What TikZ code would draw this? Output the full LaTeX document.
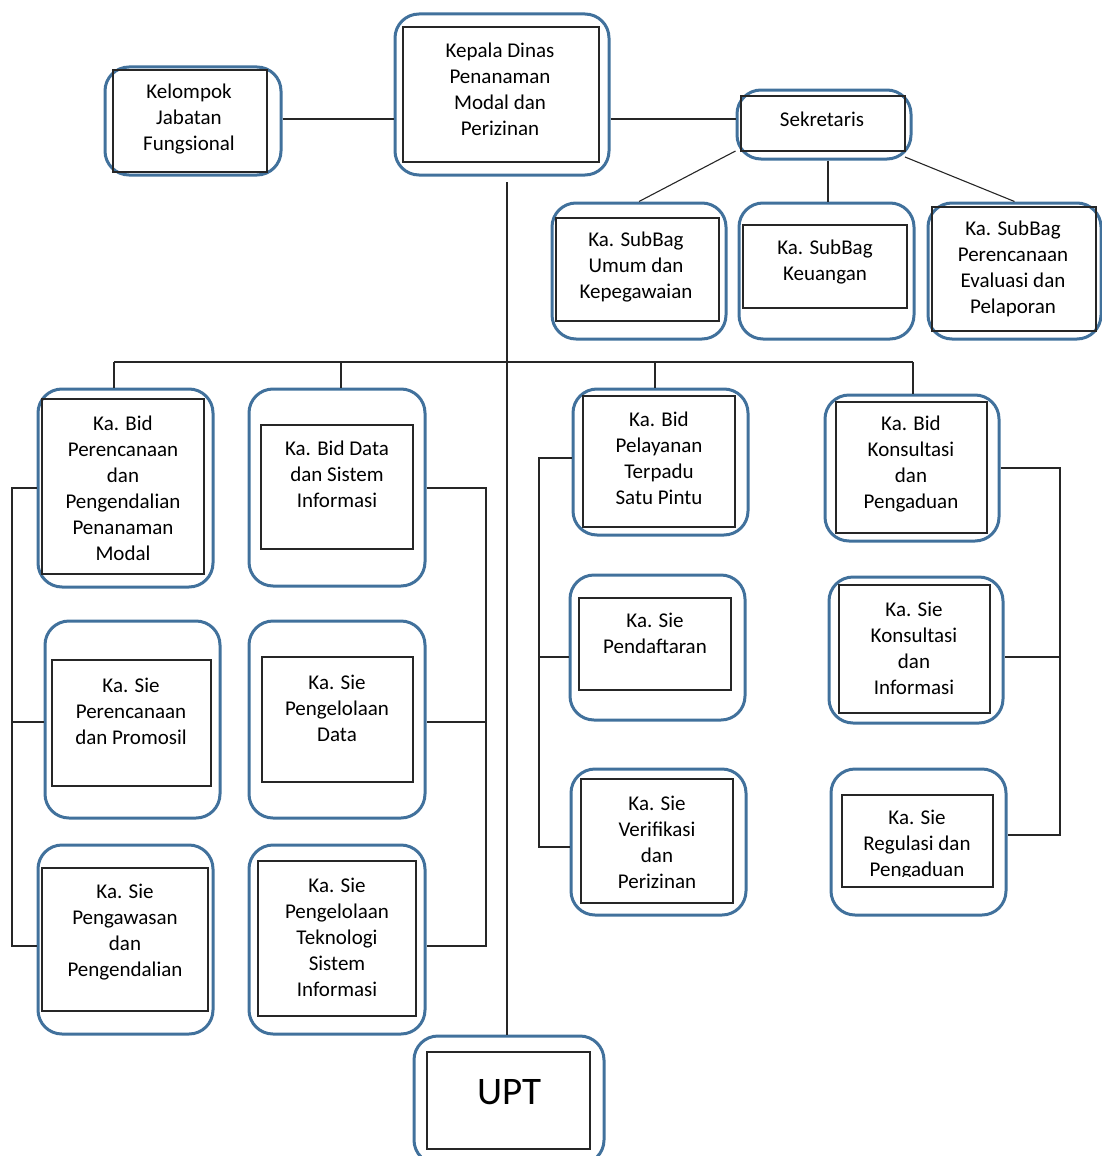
\documentclass[tikz,border=0pt]{standalone}
\usepackage{fontspec}
\setmainfont{Carlito}
\usetikzlibrary{fit}
\definecolor{boxblue}{HTML}{41719C}
\begin{document}
\begin{tikzpicture}[x=1pt,y=-1pt,
  outerbox/.style={draw=boxblue, line width=3pt, rounded corners=24pt, inner sep=0pt},
  innerbox/.style={draw=black!85, line width=1.1pt, inner sep=0pt},
  lbl/.style={align=center, inner sep=0pt, font=\fontsize{21}{26}\selectfont},
  bigl/.style={inner sep=0pt, font=\fontsize{39}{46}\selectfont},
  conn/.style={draw=black!85, line width=1.1pt}]
\useasboundingbox (0,0) rectangle (1101,1156);
% ---------- top row ----------
\node[outerbox, fit={(395,14) (609,175)}] (kd) {};
\node[innerbox, fit={(403,27) (599,162)}] (kdi) {};
\node[lbl] (kdt) at (500,89) {Kepala Dinas\\Penanaman\\Modal dan\\Perizinan};

\node[outerbox, fit={(105,67) (281,175)}] (kj) {};
\node[innerbox, fit={(113,70) (267,172)}] (kji) {};
\node[lbl] (kjt) at (189,119) {Kelompok\\Jabatan\\Fungsional};

\node[outerbox, fit={(737,90) (911,159)}] (sek) {};
\node[innerbox, fit={(741,96) (905,151)}] (seki) {};
\node[lbl] (sekt) at (822,119) {Sekretaris};

\node[outerbox, fit={(552,203) (726,339)}] (umum) {};
\node[innerbox, fit={(556,218) (719,321)}] (umumi) {};
\node[lbl] (umumt) at (636,267) {Ka. SubBag\\Umum dan\\Kepegawaian};

\node[outerbox, fit={(739,203) (914,339)}] (keu) {};
\node[innerbox, fit={(743,225) (907,308)}] (keui) {};
\node[lbl] (keut) at (825,262.5) {Ka. SubBag\\Keuangan};

\node[outerbox, fit={(928,203) (1101,339)}] (pren) {};
\node[innerbox, fit={(932,207) (1096,331)}] (preni) {};
\node[lbl] (prent) at (1013,269) {Ka. SubBag\\Perencanaan\\Evaluasi dan\\Pelaporan};

% ---------- left block ----------
\node[outerbox, fit={(38,389) (213,587)}] (b1) {};
\node[innerbox, fit={(42,399) (204,574)}] (b1i) {};
\node[lbl] (b1t) at (123,488) {Ka. Bid\\Perencanaan\\dan\\Pengendalian\\Penanaman\\Modal};

\node[outerbox, fit={(249,389) (425,586)}] (b2) {};
\node[innerbox, fit={(261,425) (413,549)}] (b2i) {};
\node[lbl] (b2t) at (337,474) {Ka. Bid Data\\dan Sistem\\Informasi};

\node[outerbox, fit={(45,621) (220,818)}] (s1) {};
\node[innerbox, fit={(52,660) (211,786)}] (s1i) {};
\node[lbl] (s1t) at (131,711) {Ka. Sie\\Perencanaan\\dan Promosil};

\node[outerbox, fit={(249,621) (425,818)}] (s2) {};
\node[innerbox, fit={(262,657) (413,782)}] (s2i) {};
\node[lbl] (s2t) at (337,708) {Ka. Sie\\Pengelolaan\\Data};

\node[outerbox, fit={(38,845) (213,1034)}] (s3) {};
\node[innerbox, fit={(42,868) (208,1011)}] (s3i) {};
\node[lbl] (s3t) at (125,932) {Ka. Sie\\Pengawasan\\dan\\Pengendalian};

\node[outerbox, fit={(249,845) (425,1034)}] (s4) {};
\node[innerbox, fit={(258,861) (416,1016)}] (s4i) {};
\node[lbl] (s4t) at (337,937) {Ka. Sie\\Pengelolaan\\Teknologi\\Sistem\\Informasi};

% ---------- middle block ----------
\node[outerbox, fit={(573,389) (748,535)}] (p1) {};
\node[innerbox, fit={(583,396) (735,527)}] (p1i) {};
\node[lbl] (p1t) at (659,458) {Ka. Bid\\Pelayanan\\Terpadu\\Satu Pintu};

\node[outerbox, fit={(570,575) (745,720)}] (p2) {};
\node[innerbox, fit={(579,598) (731,690)}] (p2i) {};
\node[lbl] (p2t) at (655,633.5) {Ka. Sie\\Pendaftaran};

\node[outerbox, fit={(571,769) (746,915)}] (p3) {};
\node[innerbox, fit={(581,779) (733,903)}] (p3i) {};
\node[lbl] (p3t) at (657,842) {Ka. Sie\\Verifikasi\\dan\\Perizinan};

% ---------- right block ----------
\node[outerbox, fit={(825,395) (999,541)}] (k1) {};
\node[innerbox, fit={(836,402) (987,533)}] (k1i) {};
\node[lbl] (k1t) at (911,464) {Ka. Bid\\Konsultasi\\dan\\Pengaduan};

\node[outerbox, fit={(829,577) (1003,723)}] (k2) {};
\node[innerbox, fit={(839,585) (990,713)}] (k2i) {};
\node[lbl] (k2t) at (914,648) {Ka. Sie\\Konsultasi\\dan\\Informasi};

\node[outerbox, fit={(831,769) (1006,915)}] (k3) {};
\node[innerbox, fit={(842,795) (993,887)}] (k3i) {};
\begin{scope}
\clip (842,795) rectangle (993,876.5);
\node[lbl] (k3t) at (917,845) {Ka. Sie\\Regulasi dan\\Pengaduan};
\end{scope}

% ---------- UPT ----------
\node[outerbox, fit={(414,1036) (604,1164)}] (upt) {};
\node[innerbox, fit={(427,1052) (590,1149)}] (upti) {};
\node[bigl] (uptt) at (509,1092) {UPT};

% ---------- connectors ----------
\coordinate (rowA) at (0,119);
\draw[conn] (kj.east |- rowA) -- (kd.west |- rowA);
\draw[conn] (kd.east |- rowA) -- (sek.west |- rowA);
\draw[conn] (sek.west |- 0,151) -- (umum.north);
\draw[conn] (sek.south -| 828,0) -- (umum.north -| 828,0);
\draw[conn] (905,157) -- (pren.north);

\coordinate (trunktop) at (507,182);
\draw[conn] (trunktop) -- (trunktop |- upt.north);

\coordinate (busL) at (114,362);
\coordinate (busR) at (913,362);
\draw[conn] (busL) -- (busR);
\draw[conn] (busL) -- (busL |- b1.north);
\draw[conn] (341,362) -- (341,362 |- b2.north);
\draw[conn] (655,362) -- (655,362 |- p1.north);
\draw[conn] (busR) -- (busR |- k1.north);

% left bracket
\coordinate (lb) at (12,0);
\draw[conn] (b1.west |- 0,488) -- (lb |- 0,488) -- (lb |- 0,946) -- (s3.west |- 0,946);
\draw[conn] (lb |- 0,722) -- (s1.west |- 0,722);
% b2 bracket
\coordinate (rb) at (486,0);
\draw[conn] (b2.east |- 0,488) -- (rb |- 0,488) -- (rb |- 0,946) -- (s4.east |- 0,946);
\draw[conn] (rb |- 0,722) -- (s2.east |- 0,722);
% middle bracket
\coordinate (mb) at (539,0);
\draw[conn] (p1.west |- 0,458) -- (mb |- 0,458) -- (mb |- 0,847) -- (p3.west |- 0,847);
\draw[conn] (mb |- 0,657) -- (p2.west |- 0,657);
% right bracket
\coordinate (kb) at (1060,0);
\draw[conn] (k1.east |- 0,468) -- (kb |- 0,468) -- (kb |- 0,835) -- (k3.east |- 0,835);
\draw[conn] (kb |- 0,657) -- (k2.east |- 0,657);
\end{tikzpicture}
\end{document}
